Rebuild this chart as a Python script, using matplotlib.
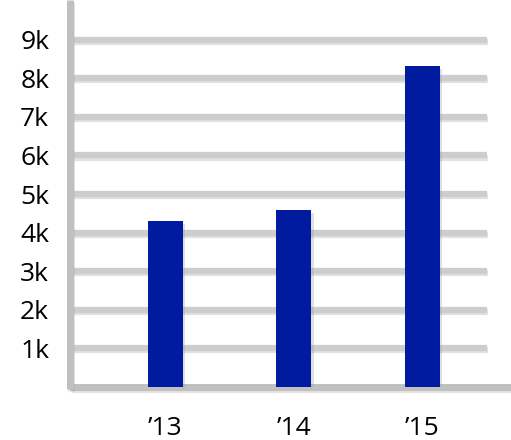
import matplotlib
matplotlib.use("Agg")
import matplotlib.pyplot as plt
import matplotlib.patheffects as pe

# data
years = ["\u201913", "\u201914", "\u201915"]
values_k = [4.3, 4.58, 8.32]
tick_vals = [1, 2, 3, 4, 5, 6, 7, 8, 9]
tick_labels = ["1k", "2k", "3k", "4k", "5k", "6k", "7k", "8k", "9k"]

plt.rcParams['font.family'] = ['Open Sans', 'DejaVu Sans']

fig = plt.figure(figsize=(5.11, 4.40), dpi=100)
ax = fig.add_axes([70 / 511, 1 - 387 / 440, 441 / 511, 387 / 440])

grid_color = '#cdcdcd'
shadow = [pe.SimpleLineShadow(offset=(1, -1.5), shadow_color='#aaaaaa', alpha=0.35),
          pe.Normal()]

x = range(len(years))
ax.set_xlim(-0.74, 2.69)
ax.set_ylim(0, 10.03)

# grid lines (drawn as lines so they can carry a soft shadow)
for v in tick_vals:
    ax.plot([-0.72, 2.5], [v, v], color=grid_color, lw=4.5, solid_capstyle='butt',
            path_effects=shadow, zorder=1)

# axis lines
ax.plot([-0.74, 2.69], [0, 0], color='#c0c0c0', lw=5, solid_capstyle='butt',
        path_effects=shadow, zorder=2, clip_on=False)
ax.plot([-0.74, -0.74], [-0.05, 10.03], color='#c0c0c0', lw=5, solid_capstyle='butt',
        path_effects=shadow, zorder=2, clip_on=False)

bars = ax.bar(x, values_k, width=0.27, color='#001aa0', zorder=3)
for b in bars:
    b.set_path_effects([pe.SimplePatchShadow(offset=(2, -2), shadow_rgbFace='#999999', alpha=0.3),
                        pe.Normal()])

for s in ax.spines.values():
    s.set_visible(False)

ax.set_yticks(tick_vals)
ax.set_yticklabels(tick_labels, fontsize=19)
ax.set_xticks(list(x))
ax.set_xticklabels(years, fontsize=19)
ax.tick_params(axis='y', length=0, pad=15)
ax.tick_params(axis='x', length=0, pad=21)

fig.savefig("out.png", dpi=100)
